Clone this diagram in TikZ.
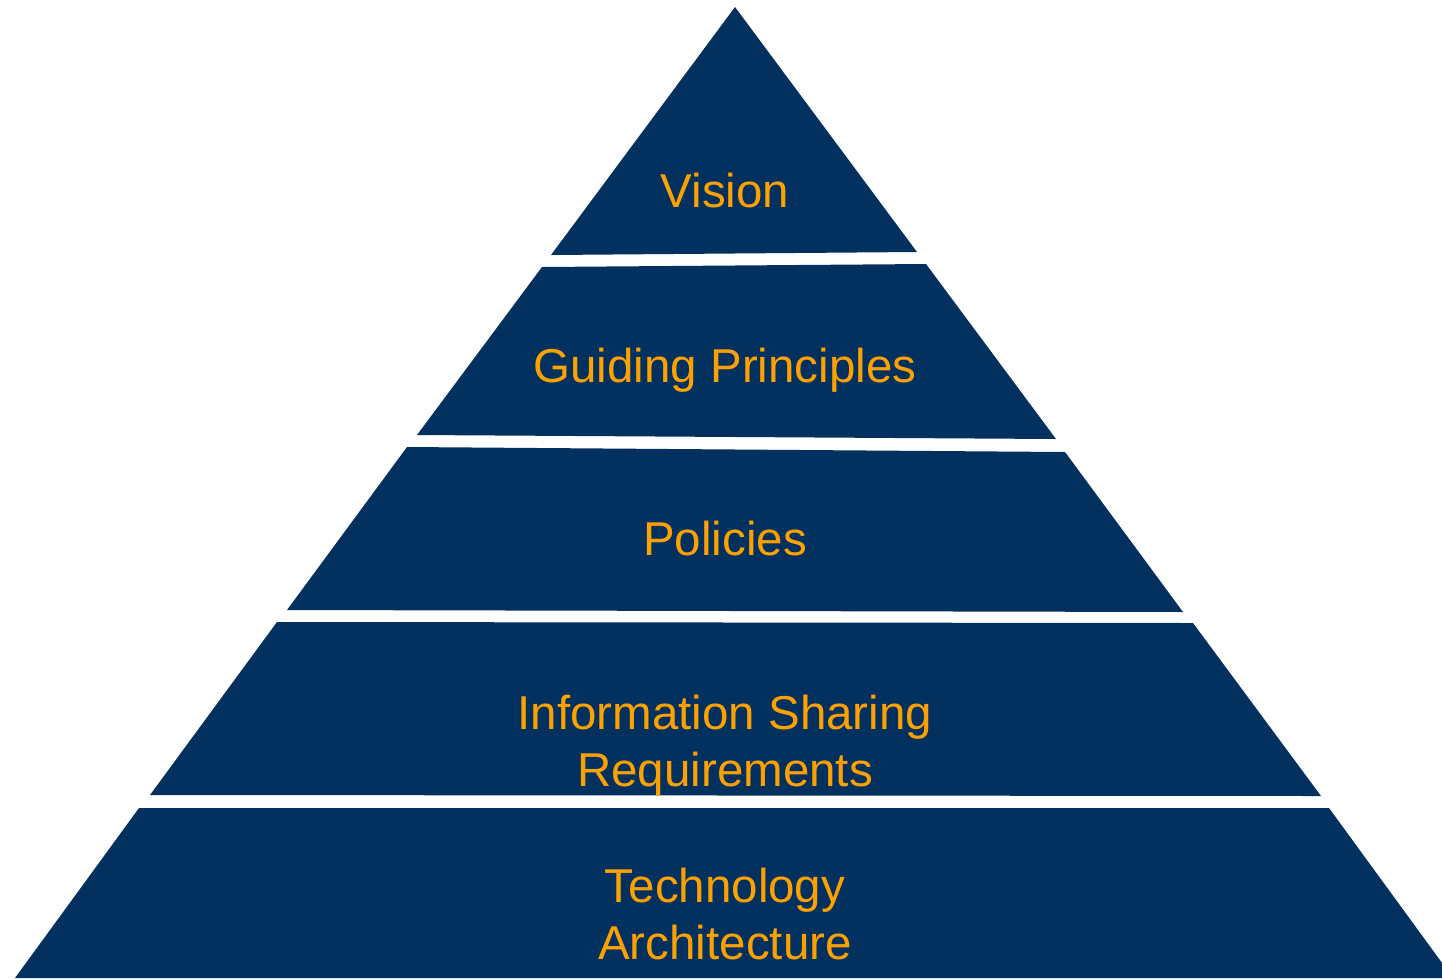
\documentclass[tikz,border=0pt]{standalone}
\usepackage{fontspec}
\setmainfont{Liberation Sans}
\definecolor{navy}{HTML}{02305F}
\definecolor{amber}{HTML}{FDA100}
\tikzset{
  layer/.style={fill=navy, draw=none},
  tier/.style={text=amber, anchor=base, align=center, inner sep=0pt,
    font=\fontsize{47.5}{57}\selectfont}
}
\begin{document}
\begin{tikzpicture}[x=1pt, y=-1pt]

  \useasboundingbox (0,0) rectangle (1442,978);
  \clip (0,0) rectangle (1442,978);

  \newcommand\Mid{725};

  %% layers, top to bottom
  \fill[layer] (735,7) -- (917,252) -- (551,255) -- cycle; %% vision
  \fill[layer] (542,267) -- (926,264) -- (1056,439) -- (417,435) -- cycle; %% principles
  \fill[layer] (407,447) -- (1065,452) -- (1183,612) -- (287,610) -- cycle; %% policies
  \fill[layer] (277,622) -- (1193,623) -- (1321,796) -- (150,795) -- cycle; %% requirements
  \fill[layer] (139,808) -- (1329,808) -- (1453,978) -- (15,978) -- cycle; %% technology

  %% base of a two-line node is its last line
  \node[tier] (vision) at (\Mid, 207) {Vision};
  \node[tier] (principles) at (\Mid, 382) {Guiding Principles};
  \node[tier] (policies) at (\Mid, 555) {Policies};
  \node[tier] (requirements) at (\Mid, 786) {Information Sharing\\Requirements};
  \node[tier] (technology) at (\Mid, 959) {Technology\\Architecture};
\end{tikzpicture}
\end{document}
